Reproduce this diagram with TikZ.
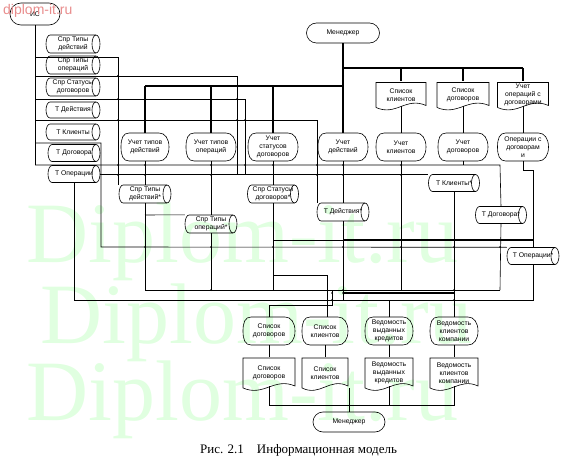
\documentclass[tikz,border=0pt]{standalone}
\usepackage{fontspec}
\setmainfont{Liberation Sans}
\newfontfamily\capfont{Liberation Serif}
\usetikzlibrary{calc,shapes.misc}
\tikzset{
 lbl/.style={inner sep=0pt, align=center, font=\fontsize{6.8}{8.2}\selectfont},
 shp/.style={draw=black, line width=0.6pt},
 ln/.style={draw=black, line width=0.6pt},
 tk/.style={draw=black, line width=1.1pt},
 term/.style={rounded rectangle, draw, line width=0.6pt, inner sep=0pt, font=\fontsize{6.8}{8.2}\selectfont},
 wm/.style={anchor=base west, inner sep=0pt, text={rgb,255:red,224;green,255;blue,224}, font=\capfont\fontsize{86}{86}\selectfont},
}
\newcommand\Pcalc[4]{%
 \pgfmathsetmacro\Pxa{#1-#3/2}\pgfmathsetmacro\Pxb{#1+#3/2}%
 \pgfmathsetmacro\Pya{#2-#4/2}\pgfmathsetmacro\Pyb{#2+#4/2}%
 \pgfmathsetmacro\Pry{#4/2}}
\newcommand\mkcyl[6]{%
 \Pcalc{#2}{#3}{#4}{#5}%
 \draw[shp] (\Pxa+4,\Pya) -- (\Pxb-4,\Pya) arc[start angle=90,end angle=-90,x radius=4pt,y radius=\Pry pt] -- (\Pxa+4,\Pyb) arc[start angle=270,end angle=90,x radius=4pt,y radius=\Pry pt] -- cycle;
 \draw[shp] (\Pxb-4,\Pya) arc[start angle=90,end angle=270,x radius=4pt,y radius=\Pry pt];
 \node[lbl,minimum width=#4pt,minimum height=#5pt] (#1) at (#2,#3) {#6};}
\newcommand\mkproc[6]{%
 \Pcalc{#2}{#3}{#4}{#5}%
 \draw[shp] (\Pxa+8,\Pya) -- (\Pxb-10,\Pya) .. controls (\Pxb-4,\Pya) and (\Pxb,#3-#5*0.3) .. (\Pxb,#3) .. controls (\Pxb,#3+#5*0.3) and (\Pxb-4,\Pyb) .. (\Pxb-10,\Pyb) -- (\Pxa+8,\Pyb) .. controls (\Pxa+2,\Pyb) and (\Pxa,#3+#5*0.3) .. (\Pxa,#3) .. controls (\Pxa,#3-#5*0.3) and (\Pxa+2,\Pya) .. (\Pxa+8,\Pya) -- cycle;
 \node[lbl,minimum width=#4pt,minimum height=#5pt] (#1) at (#2,#3) {#6};}
\newcommand\mkdoc[6]{%
 \Pcalc{#2}{#3}{#4}{#5}%
 \draw[shp] (\Pxa,\Pyb-2) -- (\Pxa,\Pya) -- (\Pxb,\Pya) -- (\Pxb,\Pyb-4) .. controls (#2+#4*0.1,\Pyb-13) and (#2-#4*0.1,\Pyb+7) .. (\Pxa,\Pyb-2);
 \node[lbl,minimum width=#4pt,minimum height=#5pt] (#1) at (#2,#3-1) {#6};}
\begin{document}
\begin{tikzpicture}[x=1pt,y=-1pt]
\useasboundingbox (0,0) rectangle (574,460);
% watermark
\node[wm] (w1) at (26,262) {Diplom-it.ru};
\node[wm] (w2) at (40,343) {Diplom-it.ru};
\node[wm] (w3) at (26,420) {Diplom-it.ru};
% terminators
\node[term,minimum width=50pt,minimum height=22pt] (is) at (35,14) {ИС};
\node[term,minimum width=73pt,minimum height=20pt] (m1) at (343,33) {Менеджер};
\node[term,minimum width=72pt,minimum height=20pt] (m2) at (349,422) {Менеджер};
% left stores
\mkcyl{c1}{73}{44}{54}{18}{Спр Типы\\действий}
\mkcyl{c2}{73}{65}{54}{18}{Спр Типы\\операций}
\mkcyl{c3}{73}{87}{54}{18}{Спр Статусы\\договоров}
\mkcyl{c4}{73}{110}{54}{16}{Т Действия}
\mkcyl{c5}{73}{132}{54}{16}{Т Клиенты}
\mkcyl{c6}{74}{153}{52}{17}{Т Договора}
\mkcyl{c7}{74}{174}{52}{17}{Т Операции}
% top documents
\mkdoc{d1}{401}{96}{50}{27}{Список\\клиентов}
\mkdoc{d2}{463}{96}{52}{27}{Список\\договоров}
\mkdoc{d3}{523}{96}{51}{27}{Учет\\операций с\\договорами}
% processes
\mkproc{p1}{145}{147}{48}{28}{Учет типов\\действий}
\mkproc{p2}{211}{147}{50}{28}{Учет типов\\операций}
\mkproc{p3}{273}{147}{50}{28}{Учет\\статусов\\договоров}
\mkproc{p4}{343}{147}{50}{28}{Учет\\действий}
\mkproc{p5}{401}{147}{50}{28}{Учет\\клиентов}
\mkproc{p6}{463}{147}{50}{28}{Учет\\договоров}
\mkproc{p7}{523}{147}{51}{28}{Операции с\\договорам\\и}
% updated stores
\mkcyl{s1}{145}{194}{52}{18}{Спр Типы\\действий*}
\mkcyl{s2}{211}{224}{52}{18}{Спр Типы\\операций*}
\mkcyl{s3}{273}{194}{51}{18}{Спр Статусы\\договоров*}
\mkcyl{s4}{343}{212}{52}{18}{Т Действия*}
\mkcyl{s5}{454}{183}{51}{17}{Т Клиенты*}
\mkcyl{s6}{501}{215}{51}{17}{Т Договора*}
\mkcyl{s7}{533}{256}{52}{17}{Т Операции*}
% bottom processes and documents
\mkproc{b1}{269}{331}{52}{28}{Список\\договоров}
\mkproc{b2}{325}{331}{46}{28}{Список\\клиентов}
\mkproc{b3}{389}{331}{48}{28}{Ведомость\\выданных\\кредитов}
\mkproc{b4}{454}{331}{48}{28}{Ведомость\\клиентов\\компании}
\mkdoc{e1}{269}{374}{52}{32}{Список\\договоров}
\mkdoc{e2}{325}{374}{46}{32}{Список\\клиентов}
\mkdoc{e3}{389}{374}{48}{32}{Ведомость\\выданных\\кредитов}
\mkdoc{e4}{454}{374}{48}{32}{Ведомость\\клиентов\\компании}
% IS bus
\draw[ln] (is.south) -- (35,165);
\draw[ln] (35,57) -- (118,57) -- (118,185);
\draw[ln] (35,76) -- (237,76) -- (237,175);
\draw[ln] (35,99) -- (245,99) -- (245,175);
\draw[ln] (35,120) -- (317,120) -- (317,203);
\draw[ln] (35,143) -- (101,143) -- (101,247) -- (s7.north west);
\draw[ln] (35,165) -- (500,165) -- (s6.north);
\draw[ln] (c7.east) -- (c7.east -| s5.west);
% manager
\draw[tk] (m1.south) -- (p4.north);
\draw[tk] (145,86) -- (343,86);
\draw[tk] (145,86) -- (p1.north);
\draw[tk] (211,86) -- (p2.north);
\draw[tk] (273,86) -- (p3.north);
\draw[tk] (343,68) -- (523,68);
\draw[tk] (401,68) -- (d1.north);
\draw[tk] (463,68) -- (d2.north);
\draw[tk] (523,68) -- (d3.north);
\draw[ln] ([yshift=3pt]d1.south) -- (p5.north);
\draw[ln] ([yshift=3pt]d2.south) -- (p6.north);
\draw[ln] ([yshift=3pt]d3.south) -- (p7.north);
% process outputs
\draw[ln] (p1.south) -- (s1.north);
\draw[ln] (s1.south) -- (145,290) -- (500,290);
\draw[ln] (145,215) -- (s2.north west);
\draw[ln] (p2.south) -- (s2.north);
\draw[ln] (s2.south) -- (211,290);
\draw[ln] (p3.south) -- (s3.north);
\draw[ln] (s3.south) -- (273,290);
\draw[ln] (273,275) -- (327,275) -- (327,317);
\draw[ln] (273,240) -- (343,240);
\draw[tk] (343,240) -- (533,240);
\draw[ln] (p4.south) -- (s4.north);
\draw[ln] (s4.south) -- (343,300);
\draw[ln] (p5.south) -- (401,290);
\draw[ln] (p6.south) -- (463,165);
\draw[ln] (s5.south) -- (b4.north);
\draw[ln] (s6.south) -- (500,290);
\draw[ln] (p7.south) -- (523,170) -- (533,170) -- (s7.north);
\draw[ln] (s7.south) -- (533,300) -- (74,300) -- (c7.south);
\draw[ln] (389,300) -- (b3.north);
\draw[tk] (343,293) -- (454,293);
\draw[ln] (332,290) -- (332,305) -- (269,305) -- (b1.north);
% bottom
\draw[ln] (b1.south) -- (e1.north);
\draw[ln] (b2.south) -- (e2.north);
\draw[ln] (b3.south) -- (e3.north);
\draw[ln] (b4.south) -- (e4.north);
\draw[ln] ([yshift=3pt]e1.south) -- (269,405) -- (454,405) -- ([yshift=3pt]e4.south);
\draw[ln] ([yshift=3pt]e3.south) -- (389,405);
\draw[ln] (349,388) -- (m2.north);
% junction dots
\foreach \jx/\jy in {118/76,118/99,118/120,118/165,118/175,145/99,145/120,145/165,145/175,145/247,211/99,211/120,211/165,211/175,211/247,211/290,237/86,237/99,237/120,245/120,245/165,273/99,273/120,273/165,273/247,317/165,317/175,343/76,343/165,343/175,343/247,343/290,401/165,401/175,401/240,401/247,454/240,454/247,454/290,500/240,500/247,332/293,332/300,389/293,343/293,454/300}
  \fill (\jx,\jy) circle (1pt);
% caption
\node[anchor=base west, inner sep=0pt, font=\capfont\fontsize{13}{14}\selectfont] (cap) at (200,453) {Рис. 2.1\hspace{1em}Информационная модель};
\node[anchor=base west, inner sep=0pt, text={rgb,255:red,232;green,140;blue,140}, font=\fontsize{14}{14}\selectfont] (wr) at (3,15) {diplom-it.ru};
\end{tikzpicture}
\end{document}
